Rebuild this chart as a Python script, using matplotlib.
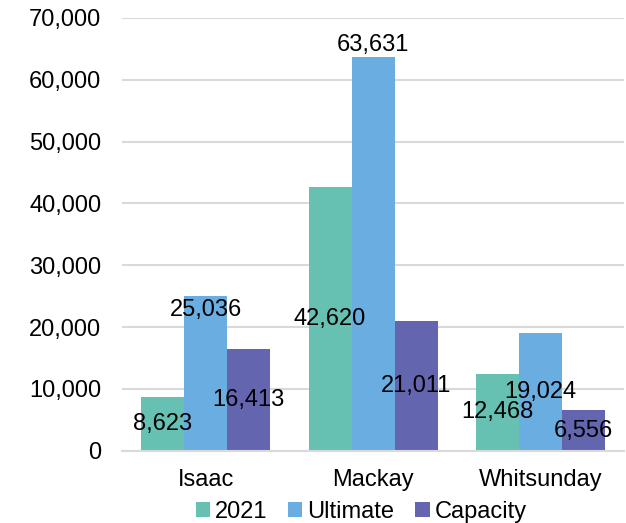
import matplotlib.pyplot as plt
import matplotlib as mpl
import numpy as np

plt.rcParams['font.family'] = ['Liberation Sans', 'DejaVu Sans']

# population by region
regions = ['Isaac', 'Mackay', 'Whitsunday']
series = ['2021', 'Ultimate', 'Capacity']
pop_2021 = [8623, 42620, 12468]
pop_ultimate = [25036, 63631, 19024]
pop_capacity = [16413, 21011, 6556]

# where each value label sits: 'c' centre, 'in' inside end, 'out' outside end
label_pos = [['c', 'c', 'c'], ['in', 'out', 'c'], ['c', 'c', 'c']]

bar_colors = ['#67c1b3', '#6aade0', '#6366af']
fs = 17

fig = plt.figure(figsize=(6.26, 5.23), dpi=100)
ax = fig.add_axes([0.195, 0.138, 0.802, 0.828])

x = np.arange(len(regions))
width = 0.257
values = [pop_2021, pop_ultimate, pop_capacity]
for i, (name, vals, col) in enumerate(zip(series, values, bar_colors)):
    rects = ax.bar(x + (i - 1) * width, vals, width, color=col, label=name, zorder=2)
    fmt = [f'{v:,.0f}' for v in vals]
    pos = label_pos[i]
    ax.bar_label(rects, labels=[f if p == 'c' else '' for f, p in zip(fmt, pos)],
                 label_type='center', fontsize=fs)
    ax.bar_label(rects, labels=[f if p == 'out' else '' for f, p in zip(fmt, pos)],
                 label_type='edge', padding=1, fontsize=fs)
    ax.bar_label(rects, labels=[f if p == 'in' else '' for f, p in zip(fmt, pos)],
                 label_type='edge', padding=-18, fontsize=fs)

ax.set_xlim(-0.5, 2.5)
ax.set_ylim(0, 70000)
ax.set_yticks(np.arange(0, 70001, 10000))
ax.yaxis.set_major_formatter(mpl.ticker.StrMethodFormatter('{x:,.0f}'))
ax.set_xticks(x, regions)
ax.tick_params(axis='both', length=0, labelsize=fs)
ax.tick_params(axis='y', pad=15)
ax.tick_params(axis='x', pad=13)
ax.grid(axis='y', color='#d9d9d9', linewidth=1.5, zorder=0)
for s in ['left', 'right', 'top']:
    ax.spines[s].set_visible(False)
ax.spines['bottom'].set_color('#d9d9d9')
ax.spines['bottom'].set_linewidth(1.5)

fig.legend(loc='center', bbox_to_anchor=(361 / 626, 1 - 512 / 523), ncol=3,
           frameon=False, fontsize=fs, handlelength=0.6, handleheight=0.6,
           handletextpad=0.2, columnspacing=0.9, borderpad=0)

fig.savefig('out.png', dpi=100)
